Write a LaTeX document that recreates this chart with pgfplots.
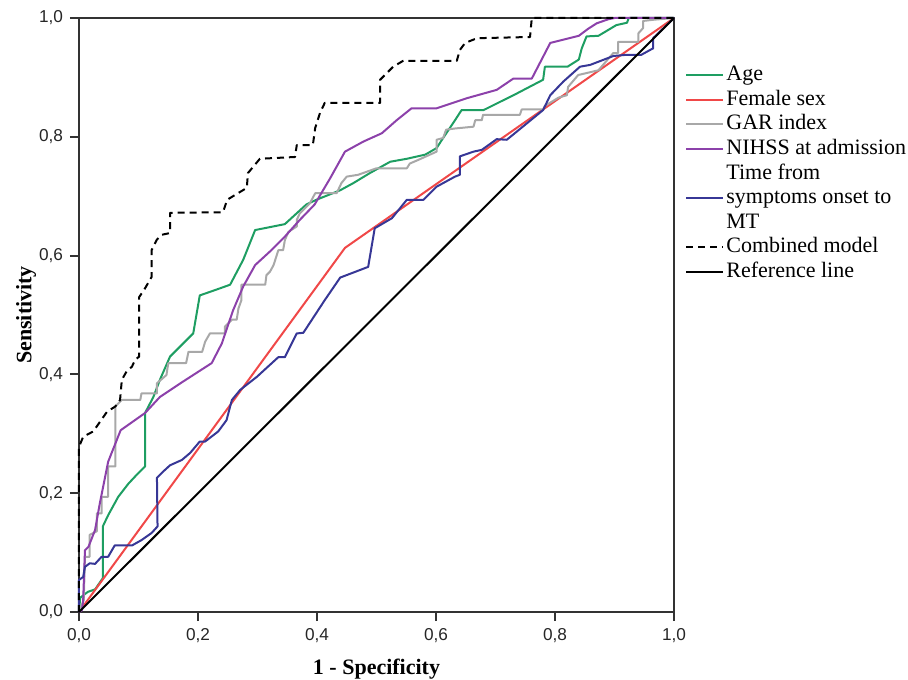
\documentclass[border=0pt]{standalone}
\usepackage{fontspec}
\setmainfont{Liberation Serif}
\setsansfont{Liberation Sans}
\usepackage{pgfplots}
\pgfplotsset{compat=1.18}
\definecolor{cgreen}{RGB}{30,158,98}
\definecolor{cred}{RGB}{240,72,72}
\definecolor{cgray}{RGB}{168,168,168}
\definecolor{cpurple}{RGB}{140,65,170}
\definecolor{cblue}{RGB}{55,55,150}
\begin{document}
\begin{tikzpicture}
\useasboundingbox (-39.5pt,-33.5pt) rectangle (414.5pt,306pt);
\begin{axis}[
  scale only axis, width=297.5pt, height=297pt,
  xmin=0, xmax=1, ymin=0, ymax=1,
  xtick={0,0.2,0.4,0.6,0.8,1}, ytick={0,0.2,0.4,0.6,0.8,1},
  tick align=outside, major tick length=4.5pt,
  xtick pos=left, ytick pos=left,
  axis line style={line width=1pt, black!80},
  every tick/.style={line width=1pt, black!80},
  /pgf/number format/.cd, fixed, fixed zerofill, precision=1, use comma, assume math mode=true,
  /pgfplots/.cd,
  tick label style={font=\sffamily\fontsize{8.6}{10}\selectfont, text=black!85},
  xlabel={1 - Specificity}, ylabel={Sensitivity},
  label style={font=\fontsize{11}{13}\selectfont\bfseries},
  xlabel style={at={(axis description cs:0.5,-0.097)}, anchor=center},
  ylabel style={at={(axis description cs:-0.089,0.5)}, anchor=center},
  clip=false,
  legend cell align=left,
  legend image code/.code={\draw[#1] (0cm,0cm) -- (0.65cm,0cm);},
  legend style={at={(1.0185,0.925)}, anchor=north west, draw=none, fill=none,
    font=\fontsize{11}{13}\selectfont, inner sep=0pt, row sep=0pt,
    nodes={inner sep=1pt, text height=7.9pt, text depth=2.4pt}},
  every axis plot/.append style={line width=1pt, line join=round},
]
% Age
\addplot[cgreen] coordinates {
(0,0)(0.002,0.024)(0.015,0.034)(0.027,0.038)(0.040,0.057)(0.040,0.144)(0.049,0.163)(0.066,0.194)(0.083,0.216)(0.097,0.231)(0.111,0.245)(0.111,0.335)(0.125,0.362)(0.136,0.391)(0.153,0.430)(0.170,0.447)(0.192,0.469)(0.203,0.533)(0.226,0.541)(0.254,0.551)(0.276,0.593)(0.296,0.643)(0.321,0.648)(0.346,0.653)(0.370,0.675)(0.382,0.686)(0.399,0.694)(0.439,0.710)(0.461,0.722)(0.489,0.739)(0.523,0.758)(0.551,0.763)(0.582,0.770)(0.601,0.781)(0.612,0.798)(0.632,0.828)(0.643,0.845)(0.680,0.845)(0.736,0.873)(0.780,0.896)(0.783,0.918)(0.821,0.918)(0.840,0.930)(0.845,0.949)(0.853,0.969)(0.873,0.970)(0.903,0.988)(0.921,0.992)(0.924,1)(1,1)};
\addlegendentry{Age}
% Female sex
\addplot[cred] coordinates {(0,0)(0.447,0.613)(1,1)};
\addlegendentry{Female sex}
% GAR index
\addplot[cgray] coordinates {
(0,0)(0.008,0.02)(0.010,0.093)(0.018,0.093)(0.018,0.130)(0.030,0.136)(0.030,0.166)(0.038,0.166)(0.038,0.194)(0.049,0.194)(0.049,0.245)(0.061,0.245)(0.061,0.346)(0.072,0.357)(0.103,0.357)(0.105,0.368)(0.131,0.368)(0.131,0.385)(0.147,0.399)(0.150,0.419)(0.180,0.419)(0.184,0.438)(0.207,0.438)(0.212,0.455)(0.220,0.469)(0.245,0.469)(0.245,0.480)(0.257,0.492)(0.265,0.492)(0.268,0.511)(0.273,0.525)(0.273,0.551)(0.313,0.551)(0.315,0.567)(0.321,0.573)(0.327,0.584)(0.335,0.609)(0.343,0.609)(0.346,0.626)(0.352,0.640)(0.366,0.649)(0.366,0.660)(0.371,0.671)(0.388,0.688)(0.397,0.705)(0.433,0.705)(0.441,0.722)(0.450,0.733)(0.469,0.736)(0.500,0.747)(0.551,0.747)(0.556,0.755)(0.570,0.761)(0.601,0.775)(0.601,0.795)(0.612,0.798)(0.617,0.812)(0.632,0.814)(0.663,0.817)(0.666,0.828)(0.677,0.828)(0.679,0.837)(0.741,0.837)(0.744,0.846)(0.780,0.846)(0.783,0.852)(0.806,0.866)(0.820,0.870)(0.822,0.884)(0.839,0.904)(0.873,0.912)(0.898,0.941)(0.906,0.941)(0.906,0.960)(0.940,0.960)(0.940,0.974)(0.948,0.983)(0.948,0.995)(0.965,0.997)(1,1)};
\addlegendentry{GAR index}
% NIHSS
\addplot[cpurple] coordinates {
(0,0)(0.005,0.003)(0.007,0.020)(0.010,0.104)(0.016,0.110)(0.027,0.138)(0.035,0.183)(0.049,0.253)(0.070,0.306)(0.111,0.335)(0.136,0.362)(0.175,0.388)(0.223,0.419)(0.240,0.452)(0.259,0.508)(0.276,0.548)(0.296,0.584)(0.321,0.607)(0.346,0.632)(0.371,0.660)(0.396,0.686)(0.422,0.730)(0.447,0.775)(0.478,0.792)(0.509,0.806)(0.534,0.828)(0.559,0.848)(0.601,0.848)(0.652,0.865)(0.702,0.879)(0.730,0.898)(0.761,0.898)(0.792,0.958)(0.840,0.970)(0.856,0.982)(0.870,0.991)(0.890,0.998)(0.9,1)(1,1)};
\addlegendentry{NIHSS at admission}
\addlegendimage{empty legend}\addlegendentry{Time from}
% Time from symptoms onset to MT
\addplot[cblue] coordinates {
(0,0)(0,0.054)(0.007,0.059)(0.010,0.076)(0.018,0.082)(0.027,0.081)(0.038,0.093)(0.049,0.093)(0.060,0.112)(0.089,0.112)(0.105,0.121)(0.122,0.133)(0.132,0.144)(0.131,0.226)(0.141,0.236)(0.153,0.247)(0.173,0.256)(0.187,0.268)(0.203,0.287)(0.212,0.287)(0.234,0.304)(0.248,0.323)(0.254,0.346)(0.257,0.357)(0.271,0.374)(0.299,0.396)(0.335,0.429)(0.346,0.429)(0.366,0.469)(0.377,0.470)(0.413,0.525)(0.439,0.563)(0.486,0.581)(0.497,0.646)(0.526,0.663)(0.551,0.694)(0.579,0.694)(0.601,0.716)(0.632,0.733)(0.640,0.736)(0.640,0.767)(0.663,0.775)(0.677,0.778)(0.702,0.796)(0.719,0.795)(0.780,0.845)(0.792,0.870)(0.814,0.893)(0.842,0.918)(0.859,0.921)(0.898,0.936)(0.920,0.938)(0.945,0.938)(0.965,0.949)(0.965,0.966)(1,1)};
\addlegendentry{symptoms onset to}
\addlegendimage{empty legend}\addlegendentry{MT}
% Combined model
\addplot[black, dash pattern=on 3.5pt off 2.5pt] coordinates {
(0,0)(0,0.278)(0.007,0.295)(0.024,0.304)(0.047,0.337)(0.061,0.346)(0.069,0.357)(0.072,0.391)(0.080,0.405)(0.089,0.413)(0.094,0.424)(0.101,0.430)(0.101,0.530)(0.111,0.545)(0.122,0.564)(0.122,0.609)(0.131,0.627)(0.139,0.635)(0.153,0.638)(0.153,0.672)(0.242,0.673)(0.249,0.694)(0.282,0.714)(0.284,0.739)(0.304,0.763)(0.363,0.766)(0.366,0.786)(0.393,0.786)(0.397,0.815)(0.405,0.840)(0.413,0.857)(0.506,0.857)(0.506,0.896)(0.528,0.918)(0.545,0.928)(0.635,0.928)(0.640,0.946)(0.649,0.958)(0.669,0.966)(0.758,0.968)(0.761,1)(1,1)};
\addlegendentry{Combined model}
% Reference line
\addplot[black] coordinates {(0,0)(1,1)};
\addlegendentry{Reference line}
\end{axis}
\end{tikzpicture}
\end{document}
